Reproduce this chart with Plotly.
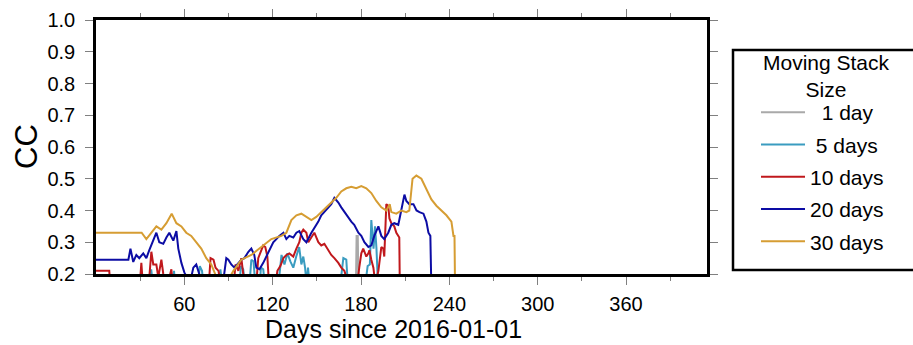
import plotly.graph_objects as go

# ---------------- data ----------------
names = ["\u00a0\u00a01 day", "\u00a05 days", "10 days", "20 days", "30 days"]
colors = ["#a9a9a9", "#3a9cc0", "#c0181c", "#0c0ca4", "#d69d33"]
legend_title = "Moving Stack<br>Size"
x_title = "Days since 2016-01-01"
y_title = "CC"

gray_days = [0, 176.5, 177, 177.8, 178.3, 180]
gray_vals = [0.15, 0.15, 0.32, 0.32, 0.15, 0.15]

lblue_days = [0, 36, 37.5, 39, 52, 53, 54, 69, 70.5, 72, 73.5, 83, 84.5, 86,
              97, 98.5, 100, 101.5, 104, 105.5, 107, 108.5, 111, 112, 113.6, 115,
              124, 126, 128, 130, 132, 134, 136, 138, 139.5, 140.8, 142, 143, 144, 145,
              166, 168, 170, 171, 183, 184.5, 186, 187, 188.5, 189.5, 190.5, 191.5]
lblue_vals = [0.15, 0.15, 0.215, 0.15, 0.15, 0.21, 0.15, 0.15, 0.225, 0.21, 0.15, 0.15, 0.215, 0.15,
              0.15, 0.225, 0.215, 0.15, 0.15, 0.245, 0.24, 0.15, 0.15, 0.22, 0.215, 0.15,
              0.17, 0.26, 0.23, 0.265, 0.24, 0.22, 0.255, 0.285, 0.23, 0.255, 0.22, 0.17, 0.22, 0.17,
              0.17, 0.25, 0.245, 0.17, 0.17, 0.225, 0.23, 0.37, 0.28, 0.35, 0.28, 0.17]

red_days = [0, 9, 10, 29.5, 30.8, 32.1, 36.2, 37.6, 38.9, 41, 42.3, 44.4, 45.7, 47.8, 51.2, 52.5,
            76.4, 77.8, 79.8, 81.2, 83.2, 85.2, 93.3, 94.7, 96.7, 98.7, 100.8, 108.9,
            110.2, 112.3, 113.6, 115, 116.4, 117.7, 121.8, 123.2, 125.2, 127.3, 129.3, 131.3,
            134, 136.1, 138.1, 139.5, 140.8, 142.9, 144.2, 146.3, 148.3, 151, 153, 155.1,
            157.8, 159.8, 161.9, 164.6, 166.6, 168.7, 171.4, 177.5, 178.8, 180.2, 181.5,
            182.3, 183.6, 185, 185.7, 187, 188.4, 189.7, 191.8, 193.8, 195.1, 195.8, 197.2,
            198.5, 199.3, 200.6, 202.6, 204, 205.3, 206, 206.5]
red_vals = [0.21, 0.21, 0.15, 0.15, 0.235, 0.15, 0.19, 0.27, 0.23, 0.23, 0.19, 0.245, 0.2, 0.15, 0.215, 0.15,
            0.15, 0.25, 0.245, 0.22, 0.21, 0.15, 0.15, 0.23, 0.21, 0.25, 0.17, 0.17,
            0.25, 0.275, 0.29, 0.285, 0.255, 0.15, 0.16, 0.21, 0.225, 0.25, 0.26, 0.265,
            0.255, 0.28, 0.30, 0.33, 0.34, 0.33, 0.30, 0.316, 0.33, 0.30, 0.29, 0.295,
            0.275, 0.26, 0.25, 0.235, 0.22, 0.21, 0.17, 0.17, 0.22, 0.265, 0.28,
            0.27, 0.255, 0.265, 0.275, 0.245, 0.22, 0.17, 0.21, 0.285, 0.28, 0.255, 0.42,
            0.415, 0.375, 0.36, 0.35, 0.33, 0.32, 0.315, 0.10]

blue_days = [0, 22, 23.4, 25.3, 27.4, 29.4, 32.1, 34.2, 36.2, 39.6, 41, 43, 45.7, 47.8, 49.8,
             52.5, 54.6, 55.9, 58, 60, 62.7, 64.7, 66.1, 68.1, 69.5, 71.5, 86.5, 88.5, 89.9,
             91.9, 94, 96.7, 98.7, 100.8, 103.5, 105.5, 107.5, 108.9, 111, 113.6, 115.7,
             117.7, 120.4, 122.5, 124.5, 127.3, 129.3, 131.3, 134, 136.1, 138.1, 140.8,
             142.9, 146.3, 148.3, 151, 153, 155.1, 157.8, 159.8, 161.9, 164.6, 166.6, 168.7,
             171.4, 173.4, 175.4, 178.2, 180.2, 182.3, 185, 187, 189, 191.8, 193.8, 195.8,
             198.5, 200.6, 202.6, 205.3, 206, 207.4, 208.8, 209.5, 210.8, 212.8, 215.6,
             217.7, 219.7, 222.4, 224.4, 225.8, 227.1, 228]
blue_vals = [0.245, 0.245, 0.28, 0.238, 0.26, 0.25, 0.265, 0.25, 0.275, 0.313, 0.33, 0.30, 0.295, 0.315, 0.33,
             0.305, 0.335, 0.28, 0.235, 0.205, 0.18, 0.19, 0.22, 0.23, 0.21, 0.18, 0.18, 0.25, 0.245,
             0.23, 0.22, 0.235, 0.245, 0.25, 0.27, 0.28, 0.26, 0.22, 0.215, 0.235, 0.255,
             0.275, 0.30, 0.31, 0.32, 0.33, 0.31, 0.32, 0.315, 0.33, 0.335, 0.31,
             0.30, 0.33, 0.345, 0.365, 0.385, 0.395, 0.41, 0.42, 0.44, 0.425, 0.41, 0.395,
             0.38, 0.365, 0.355, 0.33, 0.32, 0.30, 0.285, 0.29, 0.32, 0.35, 0.32, 0.31,
             0.33, 0.355, 0.36, 0.355, 0.37, 0.40, 0.44, 0.45, 0.43, 0.42, 0.42,
             0.40, 0.395, 0.39, 0.365, 0.33, 0.32, 0.10]

orange_days = [0, 31, 34.2, 37.6, 41, 44.4, 47.8, 51.4, 54.6, 58, 61.3, 64.7, 68.1, 71.5, 74.9,
               78.3, 81.8, 88.5, 93.3, 98.7, 105.5, 112.3, 115.7, 119.1, 125.9, 129.3, 132.7,
               136.1, 139.5, 142.9, 146.3, 149.6, 153, 156.4, 159.8, 163.2, 166.6, 170, 173.4,
               176.8, 180.2, 183.6, 187, 190.4, 193.8, 197.2, 199.5, 200.6, 204, 207.4, 210.8,
               212.8, 215, 217.6, 221, 224.4, 227.8, 231.2, 234.6, 238, 241.4, 242.8, 243.5, 244]
orange_vals = [0.33, 0.33, 0.31, 0.33, 0.35, 0.34, 0.36, 0.39, 0.36, 0.35, 0.33, 0.32, 0.30, 0.28, 0.25,
               0.23, 0.19, 0.17, 0.21, 0.245, 0.26, 0.285, 0.30, 0.31, 0.32, 0.33, 0.37,
               0.385, 0.39, 0.38, 0.37, 0.38, 0.395, 0.41, 0.425, 0.44, 0.46, 0.47, 0.475,
               0.47, 0.477, 0.47, 0.455, 0.43, 0.41, 0.40, 0.42, 0.395, 0.39, 0.40, 0.395,
               0.40, 0.50, 0.51, 0.50, 0.465, 0.435, 0.415, 0.40, 0.385, 0.365, 0.32, 0.32, 0.10]

series_days = [gray_days, lblue_days, red_days, blue_days, orange_days]
series_vals = [gray_vals, lblue_vals, red_vals, blue_vals, orange_vals]

x_ticks = [60, 120, 180, 240, 300, 360]
x_minor = [30, 90, 150, 210, 270, 330, 390]
y_ticks = [0.2, 0.3, 0.4, 0.5, 0.6, 0.7, 0.8, 0.9, 1.0]

# ---------------- figure ----------------
AX_FONT = "Liberation Sans, Arial, sans-serif"
PW, PH = 611, 254  # plot area size in px (for placing decorations)
fig = go.Figure()
for i in range(5):
    fig.add_trace(go.Scatter(
        x=series_days[i], y=series_vals[i], mode="lines", name=names[i],
        legendgroup=str(i),
        line=dict(color=colors[i], width=2),
    ))

fig.update_layout(
    width=913, height=345,
    margin=dict(l=96, r=206, t=20, b=71, autoexpand=False),
    paper_bgcolor="white", plot_bgcolor="white",
    font=dict(family=AX_FONT, color="black"),
    showlegend=True,
    legend=dict(
        x=(756 - 96) / PW, xanchor="left", y=(274 - 92) / PH, yanchor="top",
        bgcolor="rgba(0,0,0,0)", borderwidth=0,
        font=dict(family=AX_FONT, size=21),
        tracegroupgap=2, itemwidth=44,
    ),
)
fig.update_xaxes(
    range=[0, 415], showgrid=False, zeroline=False, automargin=False,
    showline=True, linecolor="black", linewidth=2.5, mirror="allticks",
    ticks="outside", ticklen=8, tickwidth=1.2, tickcolor="#808080",
    tickvals=x_ticks, ticktext=[str(v) for v in x_ticks],
    tickfont=dict(size=20), ticklabelstandoff=2,
    minor=dict(tickvals=x_minor, ticks="outside", ticklen=4, tickwidth=1.2, tickcolor="#808080"),
)
fig.update_yaxes(
    range=[0.2, 1.0], showgrid=False, zeroline=False, automargin=False,
    showline=True, linecolor="black", linewidth=2.5, mirror="allticks",
    ticks="outside", ticklen=8, tickwidth=1.2, tickcolor="#808080",
    tickvals=y_ticks, ticktext=["%.1f" % v for v in y_ticks],
    tickfont=dict(size=20), ticklabelstandoff=6,
)
# axis titles
fig.add_annotation(xref="paper", yref="paper", x=(393 - 96) / PW, y=(274 - 328.8) / PH,
                   text=x_title, showarrow=False, xanchor="center", yanchor="middle",
                   borderpad=0,
                   font=dict(family=AX_FONT, size=25, color="black"))
fig.add_annotation(xref="paper", yref="paper", x=(26 - 96) / PW, y=(274 - 147) / PH,
                   text=y_title, showarrow=False, textangle=-90,
                   xanchor="center", yanchor="middle",
                   font=dict(family=AX_FONT, size=31, color="black"))
# legend title (centred, two lines)
fig.add_annotation(xref="paper", yref="paper", x=(826 - 96) / PW, y=(274 - 76) / PH,
                   text=legend_title, showarrow=False, align="center",
                   xanchor="center", yanchor="middle",
                   font=dict(family=AX_FONT, size=21, color="black"))
# legend frame (extends past the right edge like the reference)
fig.add_shape(type="rect", xref="paper", yref="paper",
              x0=(733 - 96) / PW, x1=(916 - 96) / PW,
              y0=(274 - 270) / PH, y1=(274 - 50) / PH,
              line=dict(color="black", width=2.5), fillcolor="rgba(0,0,0,0)")

fig.write_html("out.html")
